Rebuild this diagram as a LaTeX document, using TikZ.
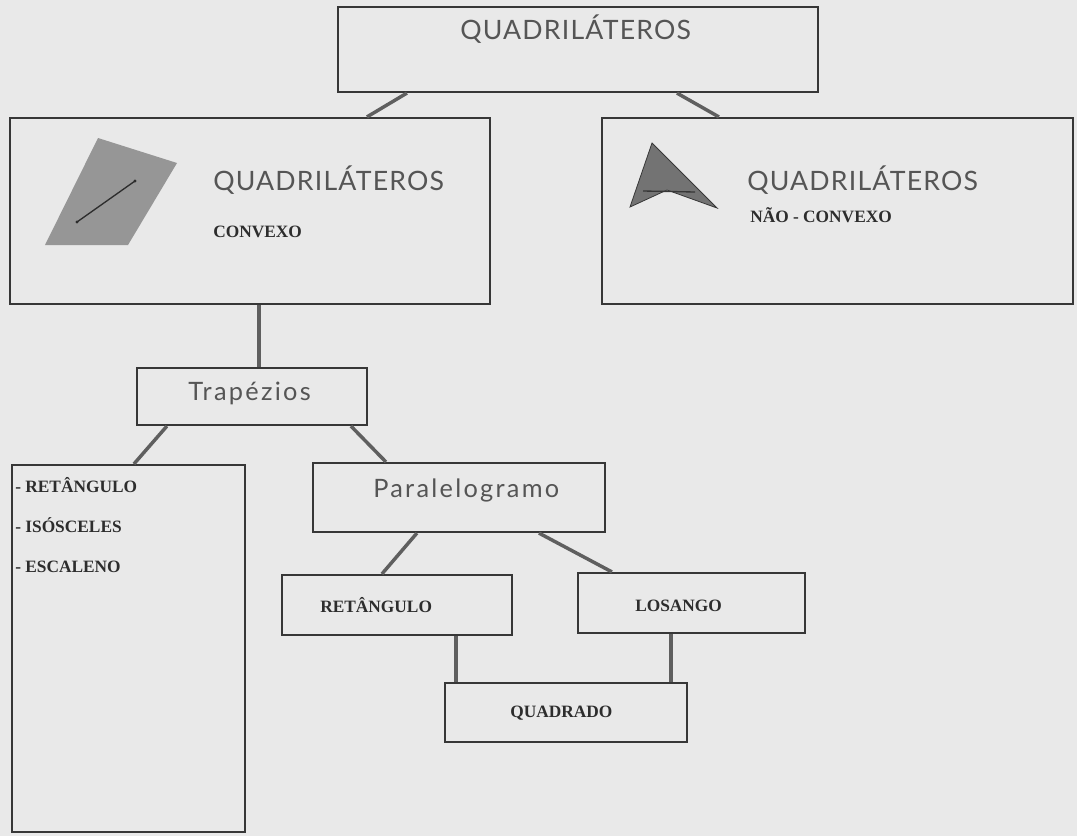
\documentclass[tikz,border=0pt]{standalone}
\usepackage{fontspec}
\setmainfont{Liberation Serif}
\newfontfamily\lato{Lato}
\newfontfamily\latowide{Lato}[LetterSpace=4.5]
\newfontfamily\latowider{Lato}[LetterSpace=9]
\usetikzlibrary{fit,calc}
\definecolor{paper}{RGB}{233,233,233}
\definecolor{edge}{RGB}{55,55,55}
\definecolor{link}{RGB}{95,95,95}
\definecolor{sanscol}{RGB}{85,85,85}
\definecolor{serifcol}{RGB}{45,45,45}
\definecolor{shapefill}{RGB}{150,150,150}
\definecolor{dartfill}{RGB}{115,115,115}
\tikzset{
  box/.style={draw=edge, line width=1.6pt, fill=paper, inner sep=0pt, rectangle},
  conn/.style={draw=link, line width=2.6pt},
  sanstxt/.style={inner sep=0pt, anchor=base west, text=sanscol, font=\latowide\fontsize{20}{24}\selectfont},
  sanslow/.style={inner sep=0pt, anchor=base west, text=sanscol, font=\latowider\fontsize{19}{23}\selectfont},
  seriftxt/.style={inner sep=0pt, anchor=base west, text=serifcol, font=\bfseries\fontsize{13}{15}\selectfont},
}
\begin{document}
\begin{tikzpicture}[x=0.75pt,y=-0.75pt]
\fill[paper] (0,0) rectangle (1077,836);
\useasboundingbox (0,0) rectangle (1077,836);
% boxes
\node[box, fit={(338,7) (818,92)}] (top) {};
\node[box, fit={(10,118) (490,304)}] (conv) {};
\node[box, fit={(602,118) (1073,304)}] (nconv) {};
\node[box, fit={(137,368) (367,425)}] (trap) {};
\node[box, fit={(12,465) (245,832)}] (list) {};
\node[box, fit={(313,463) (605,532)}] (para) {};
\node[box, fit={(282,575) (512,635)}] (ret) {};
\node[box, fit={(578,573) (805,633)}] (los) {};
\node[box, fit={(445,683) (687,742)}] (quad) {};
% connectors
\draw[conn] ($(top.south west)+(70,0)$) -- ($(conv.north west)+(358,0)$);
\draw[conn] ($(top.south west)+(340,0)$) -- ($(nconv.north west)+(118,0)$);
\draw[conn] ($(conv.south west)+(250,0)$) -- ($(trap.north west)+(123,0)$);
\draw[conn] ($(trap.south west)+(31,0)$) -- ($(list.north west)+(123,0)$);
\draw[conn] ($(trap.south west)+(215,0)$) -- ($(para.north west)+(74,0)$);
\draw[conn] ($(para.south west)+(105,0)$) -- ($(ret.north west)+(101,0)$);
\draw[conn] ($(para.south west)+(227,0)$) -- ($(los.north west)+(35,0)$);
\draw[conn] ($(ret.south west)+(175,0)$) -- ($(quad.north west)+(12,0)$);
\draw[conn] ($(los.south west)+(94,0)$) -- ($(quad.north west)+(227,0)$);
% shapes
\fill[shapefill] (98,138) -- (177,163) -- (128,245) -- (45,245) -- cycle;
\draw[serifcol, line width=1pt] (77,222) -- (135,181);
\fill[serifcol] (77,222) circle (1.6) (135,181) circle (1.6);
\fill[dartfill, draw=edge, line width=0.6pt] (652,143) -- (717,208) -- (667,190) -- (630,207) -- cycle;
\draw[edge, line width=1pt] (643,191) -- (695,192);
% texts
\node[sanstxt] (ttop) at (460,39) {QUADRILÁTEROS};
\node[sanstxt] (tconv) at (213,190) {QUADRILÁTEROS};
\node[seriftxt] (sconv) at (213,237) {CONVEXO};
\node[sanstxt] (tnconv) at (747,190) {QUADRILÁTEROS};
\node[seriftxt] (snconv) at (750,222) {NÃO - CONVEXO};
\node[sanslow] (ttrap) at (188,400) {Trapézios};
\node[sanslow] (tpara) at (373,497) {Paralelogramo};
\node[seriftxt] (l1) at (15,492) {- RETÂNGULO};
\node[seriftxt] (l2) at (15,532) {- ISÓSCELES};
\node[seriftxt] (l3) at (15,572) {- ESCALENO};
\node[seriftxt] (tret) at (320,612) {RETÂNGULO};
\node[seriftxt] (tlos) at (635,611) {LOSANGO};
\node[seriftxt] (tquad) at (510,717) {QUADRADO};
\end{tikzpicture}
\end{document}
